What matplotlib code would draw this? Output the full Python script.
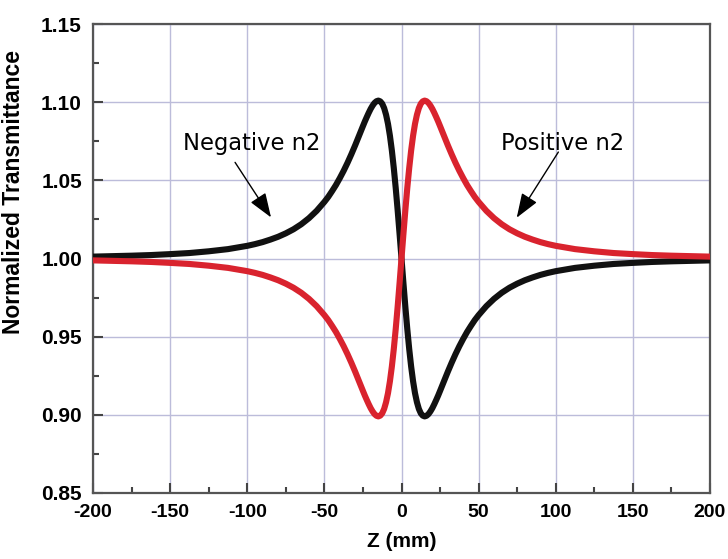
import matplotlib
matplotlib.use("Agg")
import matplotlib.pyplot as plt
from matplotlib.ticker import MultipleLocator

z = [-200, -187.5, -175, -162.5, -150, -137.5, -125, -112.5, -100, -95, -90, -85, -80,
     -75, -70, -65, -60, -55, -50, -47.5, -45, -42.5, -40, -37.5, -35, -32.5, -30,
     -27.5, -25, -23.75, -22.5, -21.25, -20, -18.75, -17.5, -16.25, -15, -13.75,
     -12.5, -11.25, -10, -8.75, -7.5, -6.25, -5, -3.75, -2.5, -1.25, 0,
     1.25, 2.5, 3.75, 5, 6.25, 7.5, 8.75, 10, 11.25, 12.5, 13.75, 15, 16.25, 17.5,
     18.75, 20, 21.25, 22.5, 23.75, 25, 27.5, 30, 32.5, 35, 37.5, 40, 42.5, 45,
     47.5, 50, 55, 60, 65, 70, 75, 80, 85, 90, 95, 100, 112.5, 125, 137.5, 150,
     162.5, 175, 187.5, 200]

negative_n2 = [1.0012, 1.0015, 1.0018, 1.0022, 1.0028, 1.0035, 1.0046, 1.0060, 1.0081,
               1.0092, 1.0105, 1.0121, 1.0139, 1.0161, 1.0187, 1.0219, 1.0258, 1.0305,
               1.0362, 1.0394, 1.0431, 1.0470, 1.0514, 1.0561, 1.0612, 1.0667, 1.0725,
               1.0786, 1.0847, 1.0877, 1.0905, 1.0932, 1.0957, 1.0978, 1.0995, 1.1006,
               1.1010, 1.1005, 1.0990, 1.0962, 1.0919, 1.0861, 1.0785, 1.0691, 1.0579,
               1.0451, 1.0309, 1.0157, 1.0000,
               0.9843, 0.9691, 0.9549, 0.9421, 0.9309, 0.9215, 0.9139, 0.9081, 0.9038,
               0.9010, 0.8995, 0.8990, 0.8994, 0.9005, 0.9022, 0.9043, 0.9068, 0.9095,
               0.9123, 0.9153, 0.9214, 0.9275, 0.9333, 0.9388, 0.9439, 0.9486, 0.9530,
               0.9569, 0.9606, 0.9638, 0.9695, 0.9742, 0.9781, 0.9813, 0.9839, 0.9861,
               0.9879, 0.9895, 0.9908, 0.9919, 0.9940, 0.9954, 0.9965, 0.9972, 0.9978,
               0.9982, 0.9985, 0.9988]

positive_n2 = [0.9988, 0.9985, 0.9982, 0.9978, 0.9972, 0.9965, 0.9954, 0.9940, 0.9919,
               0.9908, 0.9895, 0.9879, 0.9861, 0.9839, 0.9813, 0.9781, 0.9742, 0.9695,
               0.9638, 0.9606, 0.9569, 0.9530, 0.9486, 0.9439, 0.9388, 0.9333, 0.9275,
               0.9214, 0.9153, 0.9123, 0.9095, 0.9068, 0.9043, 0.9022, 0.9005, 0.8994,
               0.8990, 0.8995, 0.9010, 0.9038, 0.9081, 0.9139, 0.9215, 0.9309, 0.9421,
               0.9549, 0.9691, 0.9843, 1.0000,
               1.0157, 1.0309, 1.0451, 1.0579, 1.0691, 1.0785, 1.0861, 1.0919, 1.0962,
               1.0990, 1.1005, 1.1010, 1.1006, 1.0995, 1.0978, 1.0957, 1.0932, 1.0905,
               1.0877, 1.0847, 1.0786, 1.0725, 1.0667, 1.0612, 1.0561, 1.0514, 1.0470,
               1.0431, 1.0394, 1.0362, 1.0305, 1.0258, 1.0219, 1.0187, 1.0161, 1.0139,
               1.0121, 1.0105, 1.0092, 1.0081, 1.0060, 1.0046, 1.0035, 1.0028, 1.0022,
               1.0018, 1.0015, 1.0012]

x_ticks = [-200, -150, -100, -50, 0, 50, 100, 150, 200]
y_ticks = [0.85, 0.90, 0.95, 1.00, 1.05, 1.10, 1.15]

fig = plt.figure(figsize=(7.28, 5.59), dpi=100)
ax = fig.add_axes([93/728, 66/559, 617/728, 469/559])

fam = ["Liberation Sans", "DejaVu Sans"]

ax.plot(z, negative_n2, color="#111111", lw=4.4, solid_capstyle="round",
        solid_joinstyle="round", zorder=3)
ax.plot(z, positive_n2, color="#d9232e", lw=4.4, solid_capstyle="round",
        solid_joinstyle="round", zorder=3)

ax.set_xlim(-200, 200)
ax.set_ylim(0.85, 1.15)
ax.set_xticks(x_ticks)
ax.set_yticks(y_ticks)
ax.set_xticklabels([str(v) for v in x_ticks],
                   fontdict=dict(family=fam, weight="bold", size=14))
ax.set_yticklabels([f"{v:.2f}" for v in y_ticks],
                   fontdict=dict(family=fam, weight="bold", size=15))
ax.xaxis.set_minor_locator(MultipleLocator(25))
ax.yaxis.set_minor_locator(MultipleLocator(0.025))
ax.tick_params(which="both", direction="in", color="#444444", width=1.5)
ax.tick_params(which="major", length=7)
ax.tick_params(which="minor", length=4)
ax.tick_params(axis="x", pad=8)
ax.tick_params(axis="y", pad=8)

ax.grid(True, which="major", color="#bcbcda", lw=1.0, zorder=0)
for s in ax.spines.values():
    s.set_color("#555555")
    s.set_linewidth(1.6)

ax.set_xlabel("Z (mm)", fontdict=dict(family=fam, weight="bold", size=15), labelpad=8)
ax.set_ylabel("Normalized Transmittance",
              fontdict=dict(family=fam, weight="bold", size=16.5))
ax.yaxis.set_label_coords(-0.110, 0.642)

ax.text(-97, 1.0737, "Negative n2", ha="center", va="center",
        fontsize=16.3, family="DejaVu Sans")
ax.text(104.7, 1.0737, "Positive n2", ha="center", va="center",
        fontsize=16.3, family="DejaVu Sans")

arrow = dict(arrowstyle="-|>,head_length=1.5,head_width=0.55", color="black",
             lw=1.0, shrinkA=0, shrinkB=0)
ax.annotate("", xy=(-84.6, 1.0263), xytext=(-107.9, 1.0615), arrowprops=arrow)
ax.annotate("", xy=(74.7, 1.0261), xytext=(101.7, 1.0681), arrowprops=arrow)

fig.savefig("out.png", dpi=100)
